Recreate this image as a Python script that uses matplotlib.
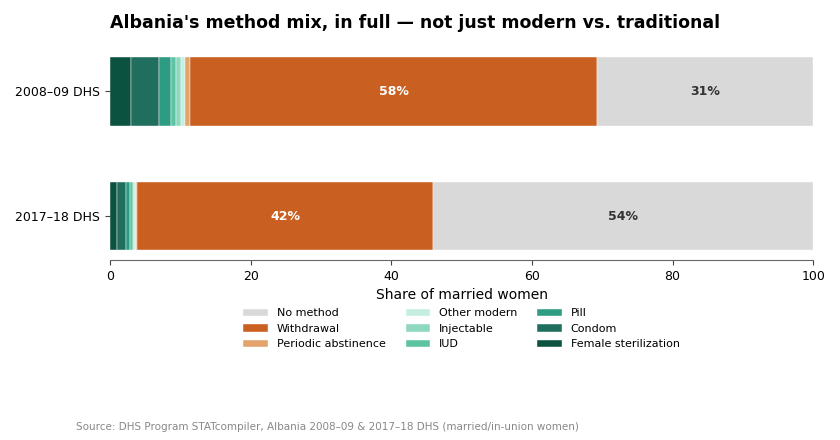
import matplotlib
matplotlib.use("Agg")
import matplotlib.pyplot as plt
import numpy as np

surveys = ["2008–09 DHS", "2017–18 DHS"]
methods = ["Female sterilization", "Condom", "Pill", "IUD", "Injectable",
           "Other modern", "Periodic abstinence", "Withdrawal", "No method"]
values = {
    "Female sterilization": [3.0, 1.0],
    "Condom": [4.0, 1.3],
    "Pill": [1.6, 0.6],
    "IUD": [0.8, 0.3],
    "Injectable": [0.7, 0.2],
    "Other modern": [0.5, 0.3],
    "Periodic abstinence": [0.8, 0.2],
    "Withdrawal": [57.9, 42.1],
    "No method": [30.7, 54.0],
}
colors = {
    "Female sterilization": "#0b5241",
    "Condom": "#1f6e5e",
    "Pill": "#2e9c82",
    "IUD": "#5cc4a2",
    "Injectable": "#8ed8bf",
    "Other modern": "#c5ede0",
    "Periodic abstinence": "#e3a46c",
    "Withdrawal": "#c95f20",
    "No method": "#d9d9d9",
}
labelled = {"Withdrawal": "white", "No method": "#333333"}

fig = plt.figure(figsize=(8.4, 4.4), dpi=100)
ax = fig.add_axes([0.131, 0.409, 0.837, 0.483])

y = np.arange(len(surveys))
left = np.zeros(len(surveys))
handles = {}
for m in methods:
    v = np.array(values[m])
    b = ax.barh(y, v, left=left, height=0.55, color=colors[m],
                edgecolor="white", linewidth=0.3, label=m)
    handles[m] = b
    if m in labelled:
        for yi, (l, w) in enumerate(zip(left, v)):
            ax.text(l + w / 2, yi, f"{w:.0f}%", ha="center", va="center",
                    color=labelled[m], fontsize=9, fontweight="bold")
    left += v

ax.set_yticks(y)
ax.set_yticklabels(surveys, fontsize=9)
ax.set_ylim(1.353, -0.353)
ax.set_xlim(0, 100)
ax.set_xticks([0, 20, 40, 60, 80, 100])
ax.tick_params(axis="x", labelsize=9, color="#444444")
ax.tick_params(axis="y", color="#444444")
for s in ["top", "right", "left"]:
    ax.spines[s].set_visible(False)
ax.spines["bottom"].set_color("#666666")
ax.set_xlabel("Share of married women", fontsize=10)

fig.text(0.131, 0.948, "Albania's method mix, in full — not just modern vs. traditional",
         fontsize=12.5, fontweight="bold", ha="left", va="center")

order = methods[::-1]
ax.legend([handles[m] for m in order], order, loc="upper center",
          bbox_to_anchor=(0.5, -0.18), ncol=3, frameon=False, fontsize=8,
          columnspacing=1.8, handlelength=2.2)

fig.text(0.09, 0.03, "Source: DHS Program STATcompiler, Albania 2008–09 & 2017–18 DHS (married/in-union women)",
         fontsize=7.5, color="#888888", ha="left", va="center")

fig.savefig("out.png", dpi=100)
